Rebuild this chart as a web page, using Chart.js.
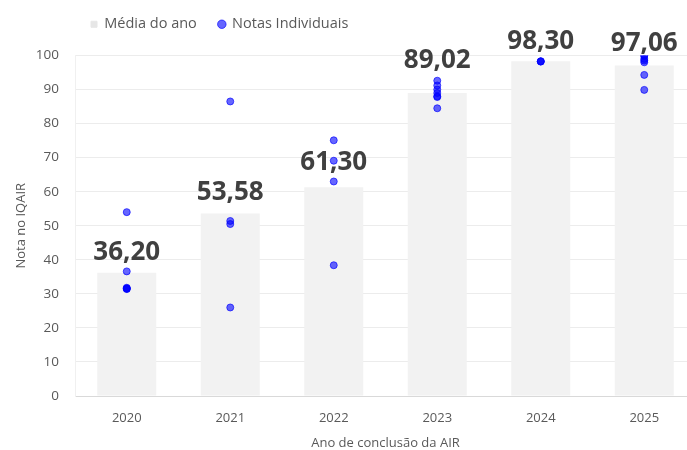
<!DOCTYPE html>
<html>
<head>
<meta charset="utf-8">
<script src="https://cdn.jsdelivr.net/npm/chart.js@4"></script>
<style>
  html, body { margin: 0; padding: 0; background: #fff; overflow: hidden; }
  #wrap { width: 701px; height: 450px; }
</style>
</head>
<body>
<div id="wrap"><canvas id="myChart"></canvas></div>
<script>
const anos = ["2020", "2021", "2022", "2023", "2024", "2025"];
const medias = [36.20, 53.58, 61.30, 89.02, 98.30, 97.06];
const yTicks = [0, 10, 20, 30, 40, 50, 60, 70, 80, 90, 100];

// notas individuais por ano
const notas2020 = [54.0, 36.6, 31.6, 31.4, 31.8, 31.5];
const notas2021 = [86.5, 51.4, 50.5, 26.0];
const notas2022 = [75.1, 69.1, 63.0, 38.4];
const notas2023 = [92.6, 91.2, 90.0, 89.0, 88.0, 87.8, 84.5];
const notas2024 = [98.3, 98.3, 98.2];
const notas2025 = [100.0, 99.9, 99.0, 98.5, 98.0, 94.3, 89.9];

const notasPorAno = [notas2020, notas2021, notas2022, notas2023, notas2024, notas2025];
const pontos = [];
notasPorAno.forEach((lista, i) => {
  lista.forEach(v => pontos.push({ x: anos[i], y: v }));
});

// distância do rótulo ao topo da barra
const labelOffsets = [13, 14, 17, 25, 12, 15];

const rotulosMedia = {
  id: "rotulosMedia",
  afterDatasetsDraw(chart) {
    const ctx = chart.ctx;
    const meta = chart.getDatasetMeta(0);
    ctx.save();
    ctx.font = "bold 26px 'Open Sans'";
    ctx.fillStyle = "#404040";
    ctx.textAlign = "center";
    ctx.textBaseline = "alphabetic";
    meta.data.forEach((bar, i) => {
      const txt = medias[i].toFixed(2).replace(".", ",");
      ctx.fillText(txt, bar.x, bar.y - labelOffsets[i]);
    });
    ctx.restore();
  }
};

// ajuste de posição da legenda
const legendaEspaco = {
  id: "legendaEspaco",
  beforeInit(chart) {
    const fitOrig = chart.legend.fit;
    chart.legend.fit = function () {
      fitOrig.bind(chart.legend)();
      this.height += 3;
    };
  },
  afterLayout(chart) {
    chart.legend.left -= 6;
    chart.legend.top -= 11;
  }
};

const data = {
  labels: anos,
  datasets: [
    {
      type: "bar",
      label: "Média do ano",
      data: medias,
      backgroundColor: "#f2f2f2",
      borderWidth: 0,
      barPercentage: 0.57,
      categoryPercentage: 1,
      pointStyle: "rect",
      order: 2
    },
    {
      type: "scatter",
      label: "Notas Individuais",
      data: pontos,
      backgroundColor: "rgba(0, 0, 255, 0.6)",
      borderColor: "rgba(0, 0, 255, 0.65)",
      borderWidth: 1,
      pointRadius: 3.5,
      pointStyle: "circle",
      order: 1
    }
  ]
};

const config = {
  type: "bar",
  data: data,
  plugins: [rotulosMedia, legendaEspaco],
  options: {
    responsive: true,
    maintainAspectRatio: false,
    animation: false,
    layout: { padding: { top: 6, right: 0, left: 13, bottom: 0 } },
    plugins: {
      tooltip: { enabled: false },
      legend: {
        position: "top",
        align: "start",
        fullSize: false,
        labels: {
          usePointStyle: true,
          boxWidth: 6,
          boxHeight: 6,
          padding: 22,
          color: "#595959",
          font: { family: "'Open Sans'", size: 14.5 },
          sort: (a, b) => a.datasetIndex - b.datasetIndex,
          generateLabels: chart => {
            const items = Chart.defaults.plugins.legend.labels.generateLabels(chart);
            items.forEach(it => {
              if (it.datasetIndex === 0) {
                it.fillStyle = "#e6e6e6";
                it.strokeStyle = "#e6e6e6";
                it.lineWidth = 1;
              }
            });
            return items;
          }
        }
      }
    },
    scales: {
      x: {
        type: "category",
        offset: true,
        grid: { display: false, drawTicks: false },
        border: { display: true, color: "#d9d9d9", width: 1 },
        ticks: { color: "#595959", font: { family: "'Open Sans'", size: 13, lineHeight: 1 }, padding: 16 },
        title: {
          display: true,
          text: "Ano de conclusão da AIR",
          color: "#595959",
          font: { family: "'Open Sans'", size: 13, lineHeight: 1 },
          padding: { top: -4, bottom: 0 }
        }
      },
      y: {
        min: 0,
        max: 100,
        afterBuildTicks: axis => { axis.ticks = yTicks.map(v => ({ value: v })); },
        afterFit: axis => { axis.width = 62; },
        grid: { color: "#ececec", drawTicks: false },
        border: { display: true, color: "#f0f0f0" },
        ticks: { color: "#595959", font: { family: "'Open Sans'", size: 13.5 }, padding: 16 },
        title: {
          display: true,
          text: "Nota no IQAIR",
          color: "#595959",
          font: { family: "'Open Sans'", size: 13 },
          padding: { top: 0, bottom: 0 }
        }
      }
    }
  }
};

const myChart = new Chart(document.getElementById("myChart"), config);
</script>
</body>
</html>
